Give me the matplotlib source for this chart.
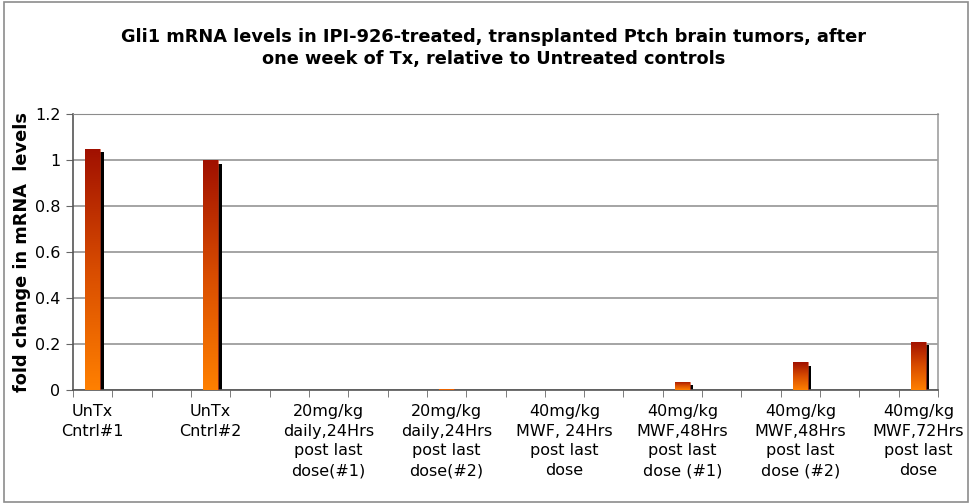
"""
Gli1 mRNA 相对表达量柱状图（重绘）
"""

import numpy as np
import matplotlib
matplotlib.use("Agg")
import matplotlib.pyplot as plt
from matplotlib.colors import LinearSegmentedColormap
from matplotlib.patches import Rectangle
from matplotlib.transforms import ScaledTranslation

# ---- 数据 ----
labels = [
    "UnTx\nCntrl#1",
    "UnTx\nCntrl#2",
    "20mg/kg\ndaily,24Hrs\npost last\ndose(#1)",
    "20mg/kg\ndaily,24Hrs\npost last\ndose(#2)",
    "40mg/kg\nMWF, 24Hrs\npost last\ndose",
    "40mg/kg\nMWF,48Hrs\npost last\ndose (#1)",
    "40mg/kg\nMWF,48Hrs\npost last\ndose (#2)",
    "40mg/kg\nMWF,72Hrs\npost last\ndose",
]
fold_change = [1.05, 1.00, 0.002, 0.005, 0.002, 0.035, 0.12, 0.21]
n_slots = 22          # 原图 x 轴共 22 个类别格，柱子每隔 3 格一根
bar_slots = [0, 3, 6, 9, 12, 15, 18, 21]
yticks = [0, 0.2, 0.4, 0.6, 0.8, 1, 1.2]
ytick_labels = ["0", "0.2", "0.4", "0.6", "0.8", "1", "1.2"]

title = ("Gli1 mRNA levels in IPI-926-treated, transplanted Ptch brain tumors, after\n"
         "one week of Tx, relative to Untreated controls")
ylabel = "fold change in mRNA  levels"

fig = plt.figure(figsize=(9.72, 5.04), dpi=100)
ax = fig.add_axes([73 / 972, 1 - 390 / 504, 865 / 972, 276 / 504])

# 外框
fig.patches.append(Rectangle((0.004, 0.004), 0.992, 0.992, transform=fig.transFigure,
                             fill=False, edgecolor="#8c8c8c", lw=1.2))

grad = LinearSegmentedColormap.from_list("bar", ["#ff8000", "#d84c00", "#a01000"])
width = 0.38
shadow_off = ScaledTranslation(3.5 / 100, -3.5 / 100, fig.dpi_scale_trans)

# 阴影（黑色，右下偏移）
shadows = ax.bar(bar_slots, fold_change, width=width, color="black", zorder=2)
for p in shadows:
    p.set_transform(ax.transData + shadow_off)

bars = ax.bar(bar_slots, fold_change, width=width, color="none",
              edgecolor="#d04020", lw=0.5, zorder=3)
gimg = np.linspace(0, 1, 256).reshape(-1, 1)
for p, v in zip(bars, fold_change):
    x0 = p.get_x()
    im = ax.imshow(gimg, cmap=grad, origin="lower", aspect="auto",
                   extent=(x0, x0 + width, 0, v), zorder=3)
    im.set_clip_path(p)

ax.set_xlim(-0.5, n_slots - 0.5)
ax.set_ylim(0, 1.2)

ax.set_yticks(yticks)
ax.set_yticklabels(ytick_labels, fontsize=11.5)
ax.yaxis.grid(True, color="#8c8c8c", lw=1.1)
ax.set_axisbelow(True)

ax.set_xticks(bar_slots)
ax.set_xticklabels(labels, fontsize=11.5, linespacing=1.4)
ax.tick_params(axis="x", which="major", length=0, pad=10)
ax.set_xticks(np.arange(-0.5, n_slots, 1), minor=True)
ax.tick_params(axis="x", which="minor", length=5, direction="out", color="#666666")
ax.tick_params(axis="y", length=5, direction="out", color="#666666", pad=4)

for s in ["left", "bottom"]:
    ax.spines[s].set_color("#555555")
    ax.spines[s].set_linewidth(1.2)
ax.spines["right"].set_color("#a0a0a0")
ax.spines["right"].set_linewidth(1.2)
ax.spines["top"].set_color("#8c8c8c")

ax.set_ylabel(ylabel, fontsize=12.8, fontweight="bold")
ax.yaxis.set_label_coords(-0.049, 0.5)

fig.text(0.508, 1 - 48 / 504, title, ha="center", va="center", fontsize=12.8,
         fontweight="bold", linespacing=1.25)

fig.savefig("out.png", dpi=100)
